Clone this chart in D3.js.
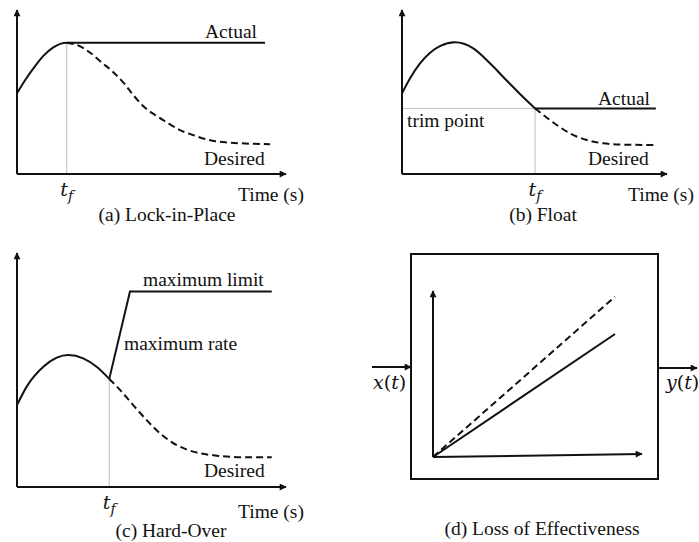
<!DOCTYPE html>
<html lang="en">
  <head>
    <meta charset="UTF-8" />
    <title>Actuator Fault Types</title>
    <script src="https://d3js.org/d3.v7.min.js"></script>
    <style>
      body { margin: 0; background: #fff; }
      text { font-family: "Liberation Serif", "Times New Roman", serif; font-size: 19.5px; fill: #111; }
      .math { font-family: "DejaVu Serif", serif; font-style: italic; font-size: 19px; }
    </style>
  </head>
  <body>
    <div id="chart"></div>
    <script>
      // values are [time, signal] on a 0..10 scale for each small axis
      const lockRise = [[0, 4.92], [0.3, 5.72], [0.61, 6.44], [0.98, 7.2], [1.35, 7.72], [1.85, 8.0]];
      const lockHoldEnd = 9.22;
      const lockDesired = [[1.85, 8.0], [2.3, 7.82], [2.71, 7.41], [3.15, 6.8], [3.57, 6.22], [3.98, 5.53],
        [4.35, 4.76], [4.72, 4.1], [5.13, 3.6], [5.53, 3.19], [6.06, 2.68], [6.62, 2.33],
        [7.23, 2.04], [7.86, 1.92], [8.48, 1.86], [9.41, 1.82]];
      const lockTf = 1.85;

      const floatActual = [[0, 4.92], [0.3, 5.83], [0.68, 6.75], [1.06, 7.4], [1.43, 7.8], [2.0, 8.03],
        [2.69, 7.66], [3.32, 6.75], [3.95, 5.7], [4.5, 4.8], [5.02, 4.0]];
      const floatHoldEnd = 9.58;
      const floatDesired = [[5.02, 4.0], [5.33, 3.6], [5.84, 2.99], [6.34, 2.48], [6.97, 2.07],
        [7.6, 1.87], [8.35, 1.79], [9.58, 1.77]];
      const floatTf = 5.02;
      const trimValue = 4.0;

      const hardRise = [[0, 3.5], [0.36, 4.29], [0.98, 5.14], [1.48, 5.53], [1.91, 5.64],
        [2.46, 5.5], [2.96, 5.14], [3.43, 4.62]];
      const hardRamp = [[3.43, 4.62], [4.2, 8.35], [9.47, 8.35]];
      const hardDesired = [[3.43, 4.62], [3.83, 4.15], [4.32, 3.5], [4.82, 2.86], [5.32, 2.29],
        [5.94, 1.79], [6.55, 1.51], [7.43, 1.34], [8.41, 1.27], [9.47, 1.27]];
      const hardTf = 3.43;

      const effIdeal = [[0, 0], [8.71, 9.66]];
      const effReduced = [[0, 0], [8.71, 7.41]];
      const effXAxis = [[0, 0], [10, 0.18]];

      const width = 699;
      const height = 542;

      const svg = d3.select("#chart").append("svg")
        .attr("width", width)
        .attr("height", height);

      svg.append("defs").append("marker")
        .attr("id", "arrow")
        .attr("viewBox", "0 0 10 10")
        .attr("refX", 9)
        .attr("refY", 5)
        .attr("markerUnits", "userSpaceOnUse")
        .attr("markerWidth", 9)
        .attr("markerHeight", 7)
        .attr("orient", "auto")
        .append("path")
        .attr("d", "M0,0L10,5L0,10z")
        .attr("fill", "#111");

      const panels = {
        a: { x: [17, 286], y: [174, 10] },
        b: { x: [402, 667], y: [174, 10] },
        c: { x: [17, 286], y: [487, 253] },
        d: { x: [433, 642], y: [457, 291] }
      };

      function scales(p) {
        return {
          x: d3.scaleLinear().domain([0, 10]).range(p.x),
          y: d3.scaleLinear().domain([0, 10]).range(p.y)
        };
      }

      function path(s, data, curve, dashed) {
        svg.append("path")
          .datum(data)
          .attr("d", d3.line().x((d) => s.x(d[0])).y((d) => s.y(d[1])).curve(curve))
          .attr("fill", "none")
          .attr("stroke", "#111")
          .attr("stroke-width", 2)
          .attr("stroke-dasharray", dashed ? "7,4" : null);
      }

      function axes(s) {
        svg.append("line")
          .attr("x1", s.x(0)).attr("y1", s.y(0))
          .attr("x2", s.x(0)).attr("y2", s.y(10))
          .attr("stroke", "#111").attr("stroke-width", 2)
          .attr("marker-end", "url(#arrow)");
        svg.append("line")
          .attr("x1", s.x(0)).attr("y1", s.y(0))
          .attr("x2", s.x(10)).attr("y2", s.y(0))
          .attr("stroke", "#111").attr("stroke-width", 2)
          .attr("marker-end", "url(#arrow)");
      }

      function guide(x1, y1, x2, y2) {
        svg.append("line")
          .attr("x1", x1).attr("y1", y1).attr("x2", x2).attr("y2", y2)
          .attr("stroke", "#bdbdbd").attr("stroke-width", 1);
      }

      function label(x, y, str, anchor) {
        svg.append("text").attr("x", x).attr("y", y)
          .attr("text-anchor", anchor || "start").text(str);
      }

      function tf(x, y) {
        const t = svg.append("text").attr("class", "math")
          .attr("x", x).attr("y", y).attr("text-anchor", "middle");
        t.append("tspan").text("t");
        t.append("tspan").attr("dy", 5).attr("font-size", 14).text("f");
      }

      function signal(x, y, name) {
        const t = svg.append("text").attr("class", "math").attr("x", x).attr("y", y);
        t.append("tspan").text(name);
        t.append("tspan").attr("font-style", "normal").text("(");
        t.append("tspan").text("t");
        t.append("tspan").attr("font-style", "normal").text(")");
      }

      // (a) Lock-in-Place
      const sa = scales(panels.a);
      guide(sa.x(lockTf), sa.y(0), sa.x(lockTf), sa.y(lockRise[lockRise.length - 1][1]));
      axes(sa);
      path(sa, lockRise.concat([[lockHoldEnd, lockRise[lockRise.length - 1][1]]]), d3.curveMonotoneX);
      path(sa, lockDesired, d3.curveMonotoneX, true);
      label(205, 38, "Actual");
      label(204, 165, "Desired");
      label(238, 201, "Time (s)");
      tf(sa.x(lockTf), 196);
      label(167, 221, "(a) Lock-in-Place", "middle");

      // (b) Float
      const sb = scales(panels.b);
      guide(sb.x(0), sb.y(trimValue), sb.x(floatTf), sb.y(trimValue));
      guide(sb.x(floatTf), sb.y(0), sb.x(floatTf), sb.y(trimValue));
      axes(sb);
      path(sb, floatActual, d3.curveMonotoneX);
      path(sb, [[floatTf, trimValue], [floatHoldEnd, trimValue]], d3.curveLinear);
      path(sb, floatDesired, d3.curveMonotoneX, true);
      label(407, 127, "trim point");
      label(598, 105, "Actual");
      label(588, 165, "Desired");
      label(628, 201, "Time (s)");
      tf(sb.x(floatTf), 196);
      label(543, 221, "(b) Float", "middle");

      // (c) Hard-Over
      const sc = scales(panels.c);
      guide(sc.x(hardTf), sc.y(0), sc.x(hardTf), sc.y(hardRise[hardRise.length - 1][1]));
      axes(sc);
      path(sc, hardRise, d3.curveMonotoneX);
      path(sc, hardRamp, d3.curveLinear);
      path(sc, hardDesired, d3.curveMonotoneX, true);
      label(143, 286, "maximum limit");
      label(124, 350, "maximum rate");
      label(204, 477, "Desired");
      label(238, 518, "Time (s)");
      tf(sc.x(hardTf), 509);
      label(171, 537, "(c) Hard-Over", "middle");

      // (d) Loss of Effectiveness
      const sd = scales(panels.d);
      svg.append("rect")
        .attr("x", 411).attr("y", 254).attr("width", 247).attr("height", 225)
        .attr("fill", "none").attr("stroke", "#111").attr("stroke-width", 2);
      svg.append("line")
        .attr("x1", 372).attr("y1", 367).attr("x2", 411).attr("y2", 367)
        .attr("stroke", "#111").attr("stroke-width", 2).attr("marker-end", "url(#arrow)");
      svg.append("line")
        .attr("x1", 658).attr("y1", 368).attr("x2", 697).attr("y2", 368)
        .attr("stroke", "#111").attr("stroke-width", 2).attr("marker-end", "url(#arrow)");
      svg.append("line")
        .attr("x1", sd.x(0)).attr("y1", sd.y(0))
        .attr("x2", sd.x(0)).attr("y2", sd.y(10))
        .attr("stroke", "#111").attr("stroke-width", 2)
        .attr("marker-end", "url(#arrow)");
      svg.append("path")
        .datum(effXAxis)
        .attr("d", d3.line().x((d) => sd.x(d[0])).y((d) => sd.y(d[1])))
        .attr("fill", "none").attr("stroke", "#111").attr("stroke-width", 2)
        .attr("marker-end", "url(#arrow)");
      path(sd, effIdeal, d3.curveLinear, true);
      path(sd, effReduced, d3.curveLinear);

      signal(373, 389, "x");
      signal(666, 389, "y");
      label(542, 535, "(d) Loss of Effectiveness", "middle");
    </script>
  </body>
</html>
